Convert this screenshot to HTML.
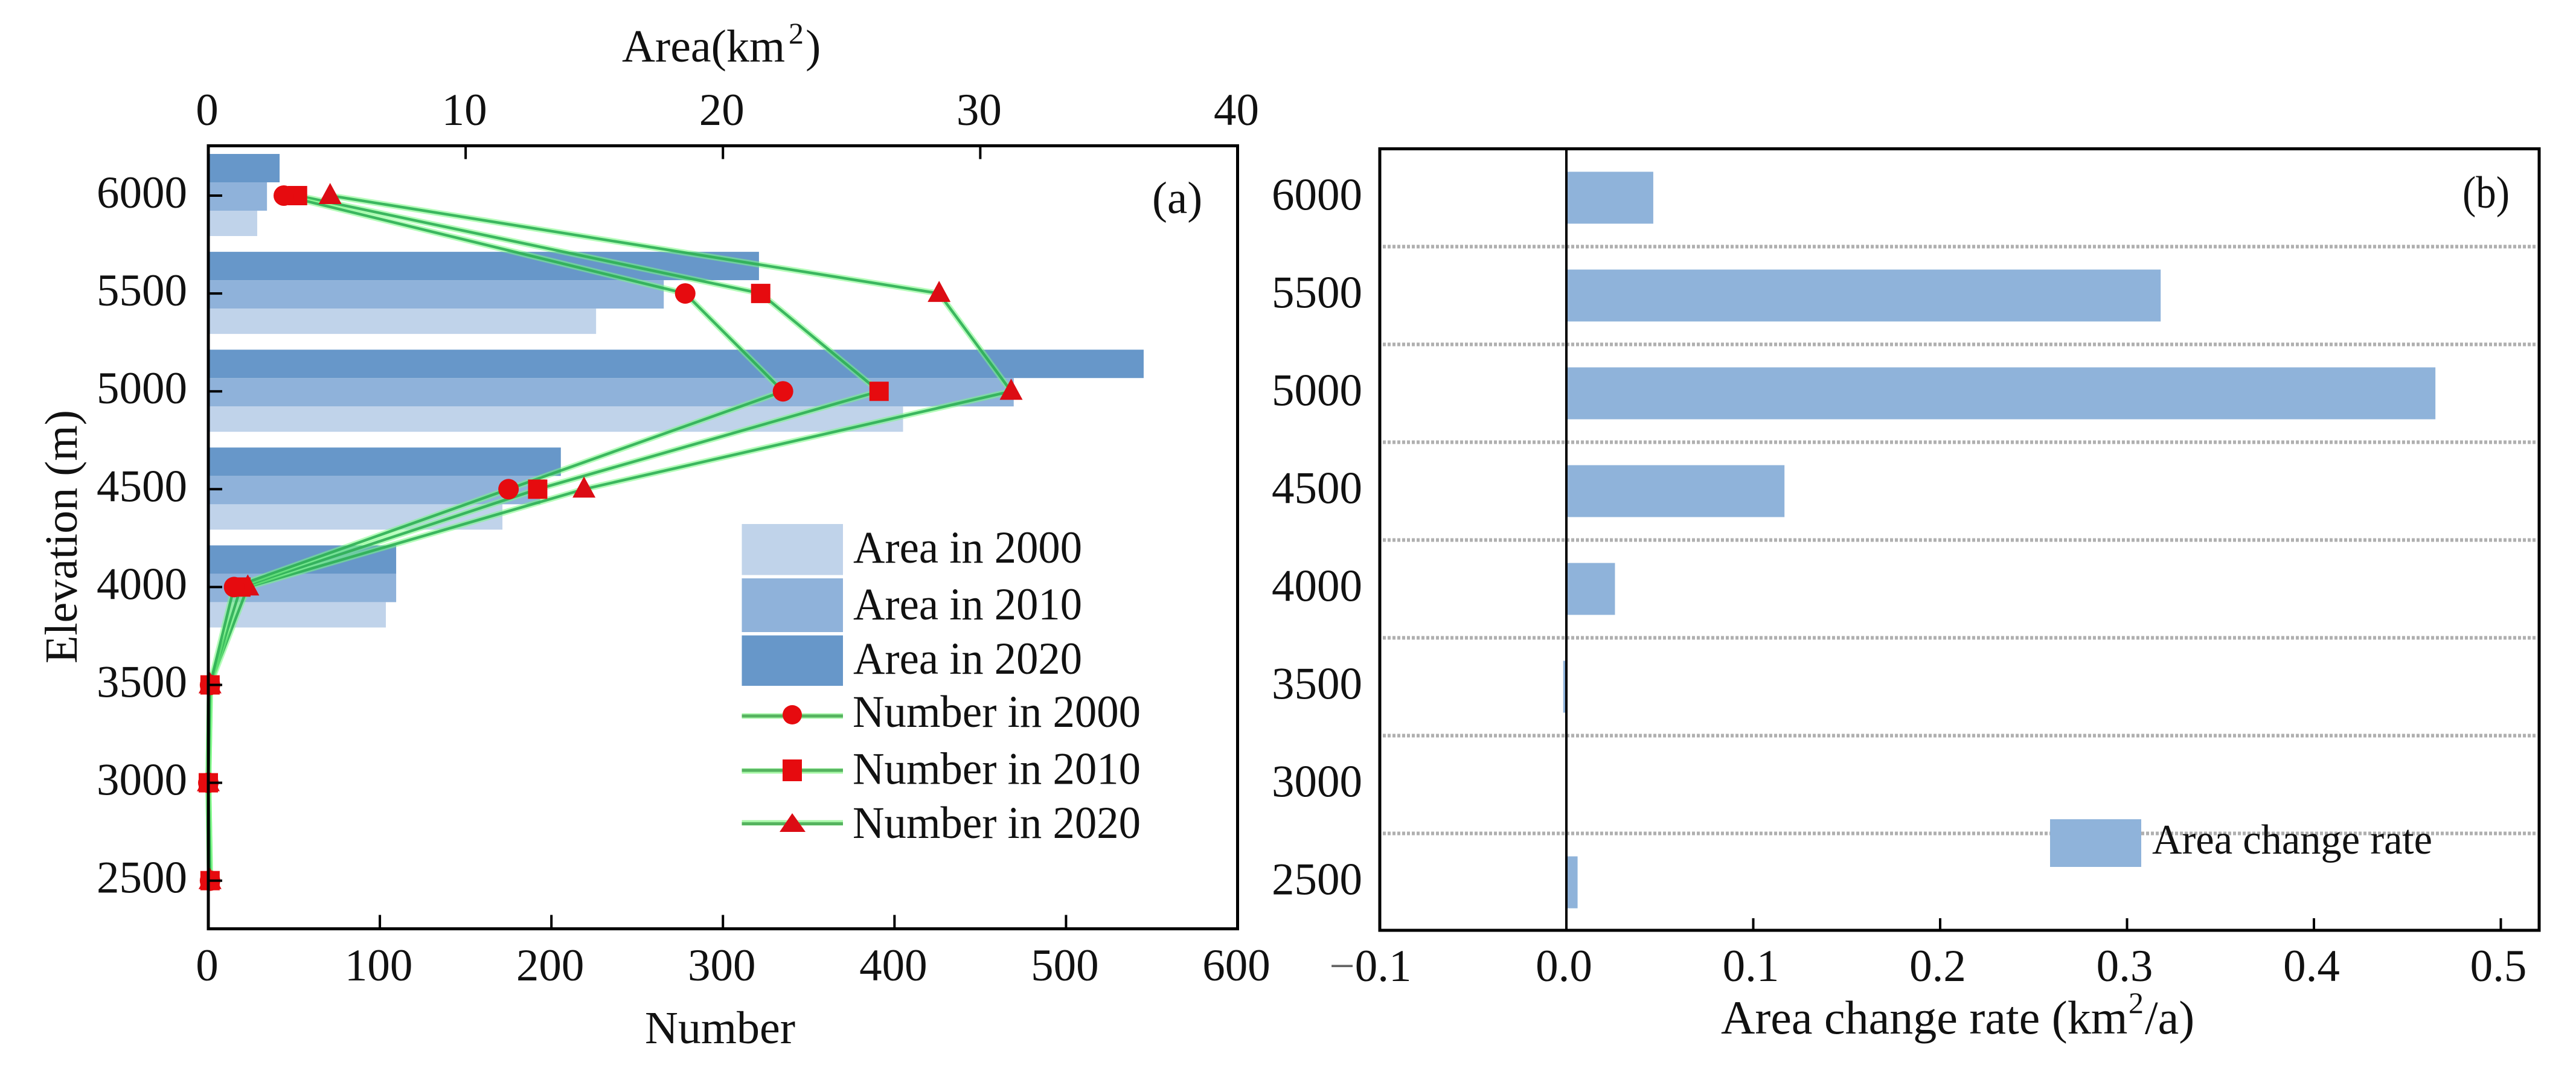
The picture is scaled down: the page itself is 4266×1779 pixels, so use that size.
<!DOCTYPE html>
<html lang="en">
<head>
<meta charset="utf-8">
<title>Elevation distribution of area and number</title>
<style>
html,body{margin:0;padding:0;background:#fff;}
svg{display:block;}
text{font-family:"Liberation Serif",serif;fill:#111;}
</style>
</head>
<body>
<svg id="figure" xmlns="http://www.w3.org/2000/svg" width="4266" height="1779" viewBox="0 0 4266 1779">
  <rect x="0" y="0" width="4266" height="1779" fill="#ffffff"/>
  <g id="panelA"></g>
  <g id="panelB"></g>

  <g>
    <text x="1030" y="102" font-size="76">Area(km</text>
    <text x="1306" y="72" font-size="50">2</text>
    <text x="1334" y="102" font-size="76">)</text>
    <text x="1068" y="1728" font-size="76">Number</text>
    <text transform="translate(127,889) rotate(-90)" text-anchor="middle" font-size="76">Elevation (m)</text>
    <text x="1908" y="353" font-size="75">(a)</text>
  </g>

  <g>
    <rect x="1228.5" y="868" width="167.5" height="84.5" fill="#c0d3ea"/>
    <rect x="1228.5" y="958" width="167.5" height="89" fill="#8fb2da"/>
    <rect x="1228.5" y="1052.5" width="167.5" height="83.5" fill="#6797c9"/>
    <text x="1413" y="932" font-size="75" textLength="379" lengthAdjust="spacingAndGlyphs">Area in 2000</text>
    <text x="1413" y="1026" font-size="75" textLength="379" lengthAdjust="spacingAndGlyphs">Area in 2010</text>
    <text x="1413" y="1116" font-size="75" textLength="379" lengthAdjust="spacingAndGlyphs">Area in 2020</text>

    <line x1="1228.5" x2="1396" y1="1186" y2="1186" stroke="#a8f7a8" stroke-width="9"/>
    <line x1="1228.5" x2="1396" y1="1186" y2="1186" stroke="#55b35f" stroke-width="5"/>
    <circle cx="1312" cy="1184" r="16" fill="#e60b0f"/>
    <text x="1412" y="1204" font-size="75" textLength="477" lengthAdjust="spacingAndGlyphs">Number in 2000</text>

    <line x1="1228.5" x2="1396" y1="1277" y2="1277" stroke="#a8f7a8" stroke-width="9"/>
    <line x1="1228.5" x2="1396" y1="1276" y2="1276" stroke="#55b35f" stroke-width="5"/>
    <rect x="1296" y="1258" width="32" height="36" fill="#e60b0f"/>
    <text x="1412" y="1298.5" font-size="75" textLength="477" lengthAdjust="spacingAndGlyphs">Number in 2010</text>

    <line x1="1228.5" x2="1396" y1="1363" y2="1363" stroke="#a8f7a8" stroke-width="9"/>
    <line x1="1228.5" x2="1396" y1="1364.5" y2="1364.5" stroke="#55b35f" stroke-width="5"/>
    <polygon points="1312,1347 1334,1378 1291,1378" fill="#dc0c14"/>
    <text x="1412" y="1388" font-size="75" textLength="477" lengthAdjust="spacingAndGlyphs">Number in 2020</text>
  </g>

  <g>
    <text x="2850" y="1712" font-size="78">Area change rate (km</text>
    <text x="3525" y="1678" font-size="50">2</text>
    <text x="3552" y="1712" font-size="78">/a)</text>
    <text x="4078" y="344" font-size="75" textLength="78" lengthAdjust="spacingAndGlyphs">(b)</text>
  </g>

  <g>
    <rect x="3395" y="1357" width="151" height="79" fill="#8fb3da"/>
    <text x="3564" y="1414" font-size="70" textLength="464" lengthAdjust="spacingAndGlyphs">Area change rate</text>
  </g>
</svg>

<script>
// ---- chart data ----
const elevations = [6000, 5500, 5000, 4500, 4000, 3500, 3000, 2500];
const area2000 = [1.9, 15.07, 27.0, 11.43, 6.9, 0, 0, 0];
const area2010 = [2.28, 17.7, 31.3, 12.9, 7.3, 0, 0, 0];
const area2020 = [2.77, 21.4, 36.35, 13.7, 7.3, 0, 0, 0];
const number2000 = [44, 278, 335, 175, 15, 1, 0, 1];
const number2010 = [52, 322, 391, 192, 19, 1, 0, 1];
const number2020 = [71, 426, 468, 219, 23, 1, 0, 1];
const rateValues = [0.0465, 0.318, 0.465, 0.1167, 0.026, -0.0017, 0, 0.006];
const separatorElevations = [5750, 5250, 4750, 4250, 3750, 3250, 2750];
const numberTicks = [0, 100, 200, 300, 400, 500, 600];
const areaTicks = [0, 10, 20, 30, 40];
const rateTicks = [-0.1, 0, 0.1, 0.2, 0.3, 0.4, 0.5];
const rateTickLabels = ['0.1', '0.0', '0.1', '0.2', '0.3', '0.4', '0.5'];

// ---- axis functions ----
const A = {left: 345, right: 2049.5, top: 241.5, bottom: 1538.5};
const B = {left: 2285, right: 4205, top: 246.5, bottom: 1541};
function xNumber(n) { return A.left + n * (A.right - A.left) / 600; }
function xArea(a) { return A.left + a * (A.right - A.left) / 40; }
function yElevA(e) { return 324 + (6000 - e) / 500 * 162.1; }
function xRate(r) { return 2594 + r * 3095; }
function yElevB(e) { return 327.5 + (6000 - e) / 500 * 162; }

const svgNS = 'http://www.w3.org/2000/svg';
function make(tag, attrs, parent) {
  const node = document.createElementNS(svgNS, tag);
  for (const k in attrs) node.setAttribute(k, attrs[k]);
  parent.appendChild(node);
  return node;
}
const panelA = document.getElementById('panelA');
const panelB = document.getElementById('panelB');

// ---- panel a: area bars ----
const areaSeries = [
  {year: '2000', values: area2000, fill: '#c0d3ea', from: 25, to: 67},
  {year: '2010', values: area2010, fill: '#8fb2da', from: -22, to: 25},
  {year: '2020', values: area2020, fill: '#6797c9', from: -69, to: -22}
];
areaSeries.forEach(function (s) {
  s.values.forEach(function (v, i) {
    if (v <= 0) return;
    const c = yElevA(elevations[i]);
    const bar = make('rect', {x: A.left, y: c + s.from, width: xArea(v) - A.left, height: s.to - s.from, fill: s.fill}, panelA);
    
    
  });
});

// ---- panel a: number lines ----
const numberSeries = [
  {year: '2020', values: number2020, shape: 'triangle'},
  {year: '2010', values: number2010, shape: 'square'},
  {year: '2000', values: number2000, shape: 'circle'}
];
numberSeries.forEach(function (s) {
  const pts = s.values.map(function (v, i) { return xNumber(v) + ',' + yElevA(elevations[i]); }).join(' ');
  const halo = make('polyline', {points: pts, fill: 'none', stroke: 'rgba(120,250,130,0.55)', 'stroke-width': 10, 'stroke-linejoin': 'round'}, panelA);
  
  
  const line = make('polyline', {points: pts, fill: 'none', stroke: 'rgba(45,175,85,0.9)', 'stroke-width': 4.5, 'stroke-linejoin': 'round'}, panelA);
  
  
});
numberSeries.forEach(function (s) {
  s.values.forEach(function (v, i) {
    const x = xNumber(v);
    const y = yElevA(elevations[i]);
    let mark;
    if (s.shape === 'circle') {
      mark = make('circle', {cx: x, cy: y, r: 17, fill: '#e60b0f'}, panelA);
    } else if (s.shape === 'square') {
      mark = make('rect', {x: x - 16, y: y - 16, width: 32, height: 32, fill: '#e60b0f'}, panelA);
    } else {
      mark = make('polygon', {points: x + ',' + (y - 21) + ' ' + (x + 19) + ',' + (y + 14) + ' ' + (x - 19) + ',' + (y + 14), fill: '#dc0c14'}, panelA);
    }
    
    
  });
});

// ---- panel a: frame, ticks, labels ----
const frameA = make('rect', {x: A.left, y: A.top, width: A.right - A.left, height: A.bottom - A.top, fill: 'none', stroke: '#000', 'stroke-width': 5}, panelA);



numberTicks.forEach(function (v) {
  const x = xNumber(v);
  if (v > 0 && v < 600) {
    const t = make('line', {x1: x, x2: x, y1: A.bottom, y2: A.bottom - 23, stroke: '#000', 'stroke-width': 4}, panelA);
    
    
  }
  const label = make('text', {x: x - 2, y: 1624, 'font-size': 75, 'text-anchor': 'middle'}, panelA);
  label.textContent = String(v);
  
  
});
areaTicks.forEach(function (v) {
  const x = xArea(v);
  if (v > 0 && v < 40) {
    const t = make('line', {x1: x, x2: x, y1: A.top, y2: A.top + 22, stroke: '#000', 'stroke-width': 4}, panelA);
    
    
  }
  const label = make('text', {x: x - 2, y: 207, 'font-size': 75, 'text-anchor': 'middle'}, panelA);
  label.textContent = String(v);
  
  
});
elevations.forEach(function (e) {
  const y = yElevA(e);
  const t = make('line', {x1: A.left, x2: A.left + 23, y1: y, y2: y, stroke: '#000', 'stroke-width': 4}, panelA);
  
  
  const label = make('text', {x: 310, y: y + 20, 'font-size': 75, 'text-anchor': 'end'}, panelA);
  label.textContent = String(e);
  
  
});

// ---- panel b: separators, bars ----
separatorElevations.forEach(function (e) {
  const y = yElevB(e);
  const sep = make('line', {x1: B.left + 5, x2: B.right - 4, y1: y, y2: y, stroke: '#b0b0b0', 'stroke-width': 6, 'stroke-dasharray': '5 3'}, panelB);
  
  
});
rateValues.forEach(function (v, i) {
  const y = yElevB(elevations[i]);
  const x0 = Math.min(xRate(0), xRate(v));
  const w = Math.abs(xRate(v) - xRate(0));
  if (w === 0) return;
  const bar = make('rect', {x: x0, y: y - 43, width: w, height: 86, fill: '#8fb3da'}, panelB);
  
  
});

// ---- panel b: frame, ticks, labels ----
const frameB = make('rect', {x: B.left, y: B.top, width: B.right - B.left, height: B.bottom - B.top, fill: 'none', stroke: '#000', 'stroke-width': 5}, panelB);


const zeroLine = make('line', {x1: xRate(0), x2: xRate(0), y1: B.top, y2: B.bottom, stroke: '#000', 'stroke-width': 4}, panelB);



rateTicks.forEach(function (v, i) {
  const x = xRate(v);
  if (v > 0) {
    const t = make('line', {x1: x, x2: x, y1: B.bottom, y2: B.bottom - 20, stroke: '#000', 'stroke-width': 4}, panelB);
    
    
  }
  const label = make('text', {x: x - (v < 0 ? 15 : 4), y: 1625, 'font-size': 75, 'text-anchor': 'middle'}, panelB);
  if (v < 0) {
    const minus = make('tspan', {fill: '#666'}, label);
    minus.textContent = '\u2212';
    
    
  }
  const digits = make('tspan', {}, label);
  digits.textContent = rateTickLabels[i];
  
  
  
  
});
elevations.forEach(function (e) {
  const label = make('text', {x: 2256, y: yElevB(e) + 20, 'font-size': 75, 'text-anchor': 'end'}, panelB);
  label.textContent = String(e);
  
  
});
</script>
</body>
</html>
